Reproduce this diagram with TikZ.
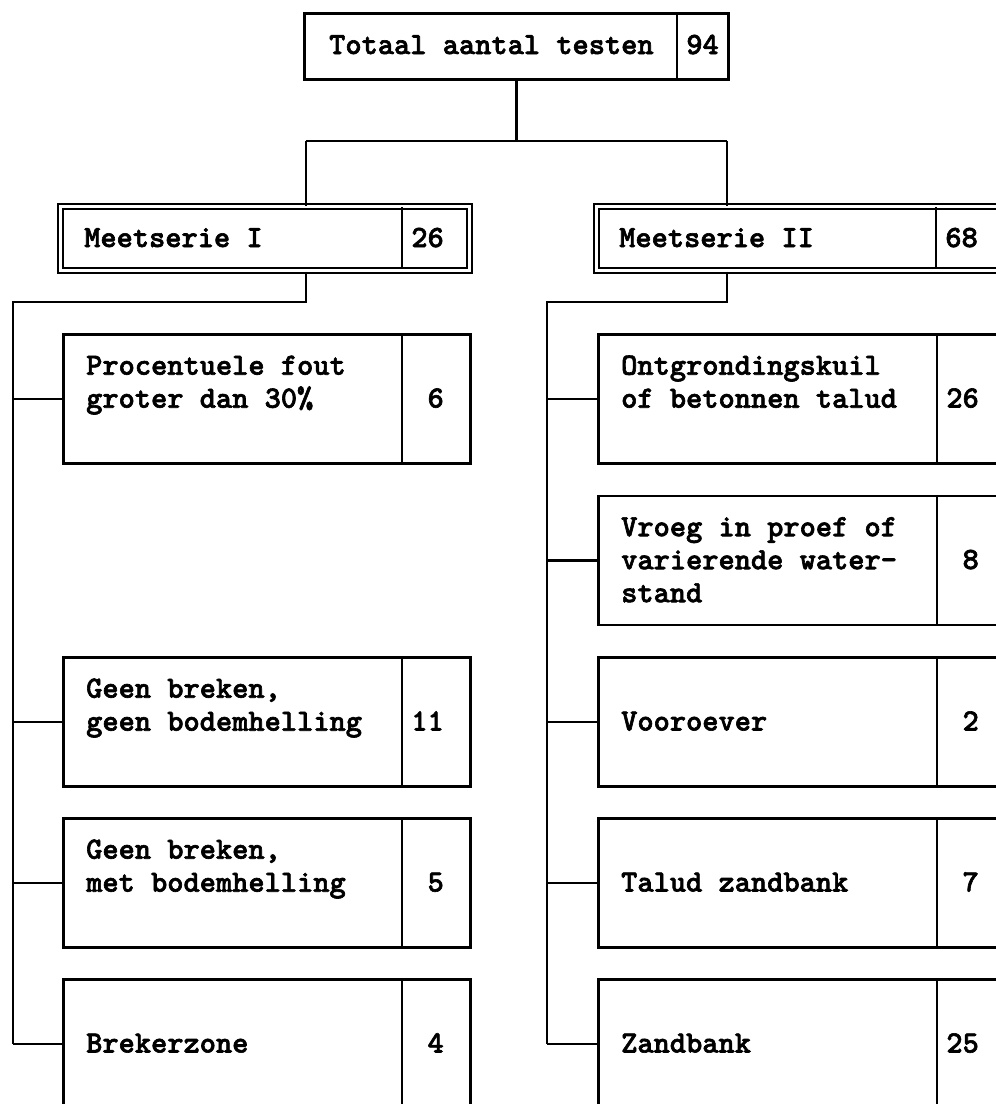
\documentclass[tikz,border=0pt]{standalone}
\usepackage{fontspec}
\newfontfamily\tyfont[FakeBold=2]{lmmonolt10-bold.otf}
\newcommand\mystrut{\rule{0pt}{24pt}}
\tikzset{
  lw/.style={line width=2.6pt},
  cbox/.style={draw, lw, rectangle, anchor=north west, inner sep=0pt, minimum height=129pt},
  dbox/.style={draw, line width=2.2pt, double, double distance=2.8pt, rectangle, anchor=north west, inner sep=0pt},
  txt/.style={inner sep=0pt, align=left, font=\tyfont\fontsize{30.9}{33}\selectfont},
  mtxt/.style={txt, anchor=north west},
  stxt/.style={txt, anchor=base west},
  num/.style={txt, anchor=base east},
  conn/.style={lw},
  divider/.style={lw}
}
\begin{document}
\begin{tikzpicture}[x=1pt, y=-1pt]
\useasboundingbox (0,0) rectangle (996,1104);
\clip (0,0) rectangle (996,1104);
\fill[white] (0,0) rectangle (996,1104);

% top box
\node[cbox, minimum width=424pt, minimum height=66pt] (top) at (303,12) {};
\draw[divider] (677,12) -- (677,78);
\node[stxt] (toptxt) at (329,54) {Totaal aantal testen};
\node[num] (topnum) at (719,54) {94};

% Meetserie boxes
\node[dbox, minimum width=409pt, minimum height=64pt] (m1) at (59.5,205.5) {};
\draw[divider] (402,207) -- (402,268);
\node[stxt] (m1txt) at (84,247) {Meetserie I};
\node[num] (m1num) at (444,247) {26};

\node[dbox, minimum width=450pt, minimum height=64pt] (m2) at (595.5,205.5) {};
\draw[divider] (936,207) -- (936,268);
\node[stxt] (m2txt) at (619,247) {Meetserie II};
\node[num] (m2num) at (978,247) {68};

% left children
\node[cbox, minimum width=407pt] (l1) at (62,333) {};
\node[cbox, minimum width=407pt] (l3) at (62,656) {};
\node[cbox, minimum width=407pt] (l4) at (62,817) {};
\node[cbox, minimum width=407pt] (l5) at (62,978) {};
\foreach \t in {333,656,817,978} \draw[divider] (402,\t) -- (402,\t+129);

\node[mtxt] (l1txt) at (86,350.5) {\mystrut Procentuele fout\\groter dan 30\%};
\node[num] (l1num) at (444,407.5) {6};
\node[mtxt] (l3txt) at (86,673.5) {\mystrut Geen breken,\\geen bodemhelling};
\node[num] (l3num) at (444,730.5) {11};
\node[mtxt] (l4txt) at (86,834.5) {\mystrut Geen breken,\\met bodemhelling};
\node[num] (l4num) at (444,891.5) {5};
\node[stxt] (l5txt) at (86,1052.5) {Brekerzone};
\node[num] (l5num) at (444,1052.5) {4};

% right children
\node[cbox, minimum width=450pt] (r1) at (597,333) {};
\node[cbox, minimum width=450pt] (r2) at (597,494.5) {};
\node[cbox, minimum width=450pt] (r3) at (597,656) {};
\node[cbox, minimum width=450pt] (r4) at (597,817) {};
\node[cbox, minimum width=450pt] (r5) at (597,978) {};
\foreach \t in {333,494.5,656,817,978} \draw[divider] (937,\t) -- (937,\t+129);

\node[mtxt] (r1txt) at (621,350.5) {\mystrut Ontgrondingskuil\\of betonnen talud};
\node[num] (r1num) at (979,407.5) {26};
\node[mtxt] (r2txt) at (621,512) {\mystrut Vroeg in proef of\\varierende water-\\stand};
\node[num] (r2num) at (979,569) {8};
\node[stxt] (r3txt) at (621,730.5) {Vooroever};
\node[num] (r3num) at (979,730.5) {2};
\node[stxt] (r4txt) at (621,891.5) {Talud zandbank};
\node[num] (r4num) at (979,891.5) {7};
\node[stxt] (r5txt) at (621,1052.5) {Zandbank};
\node[num] (r5num) at (979,1052.5) {25};

% connectors
\coordinate (jL) at (306,141);
\coordinate (jR) at (727,141);
\coordinate (bL) at (306,302);
\coordinate (sL) at (13,302);
\coordinate (bR) at (727,302);
\coordinate (sR) at (547,302);

\draw[conn] (top.south) -- (top.south |- jL);
\draw[conn] (jL) -- (jR);
\draw[conn] (jL) -- (jL |- m1.north);
\draw[conn] (jR) -- (jR |- m2.north);

\draw[conn] (bL |- m1.south) -- (bL) -- (sL) -- (sL |- l5.west);
\foreach \n in {l1,l3,l4,l5} \draw[conn] (sL |- \n.west) -- (\n.west);

\draw[conn] (bR |- m2.south) -- (bR) -- (sR) -- (sR |- r5.west);
\foreach \n in {r1,r2,r3,r4,r5} \draw[conn] (sR |- \n.west) -- (\n.west);
\end{tikzpicture}
\end{document}
